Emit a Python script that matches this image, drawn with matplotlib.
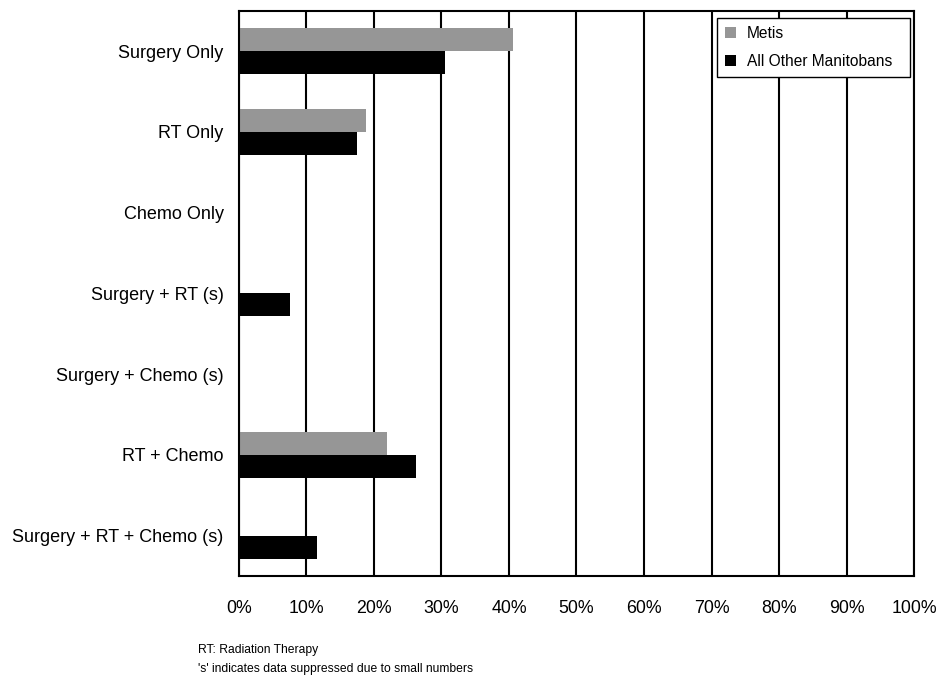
import matplotlib.pyplot as plt
import numpy as np

plt.rcParams['font.family'] = ['Liberation Sans', 'DejaVu Sans']

categories = ['Surgery Only', 'RT Only', 'Chemo Only', 'Surgery + RT (s)',
              'Surgery + Chemo (s)', 'RT + Chemo', 'Surgery + RT + Chemo (s)']
# percent of cases; 0 = suppressed / no bar
metis = [40.6, 18.8, 0, 0, 0, 21.9, 0]
others = [30.5, 17.5, 0, 7.5, 0, 26.2, 11.5]
xticks = list(range(0, 101, 10))

fig = plt.figure(figsize=(9.39, 6.79), dpi=100)
ax = fig.add_axes([0.2545, 0.1517, 0.7189, 0.8325])

y = np.arange(len(categories))
h = 0.285
ax.barh(y - h / 2, metis, height=h, color='#969696', label='Metis', zorder=3)
ax.barh(y + h / 2, others, height=h, color='black', label='All Other Manitobans', zorder=3)

ax.set_xlim(0, 100)
ax.set_ylim(len(categories) - 0.5, -0.5)
ax.set_xticks(xticks)
ax.set_xticklabels([f'{t}%' for t in xticks], fontsize=12.8)
ax.set_yticks(y)
ax.set_yticklabels(categories, fontsize=13)
ax.tick_params(axis='both', length=0)
ax.tick_params(axis='x', pad=17)
ax.tick_params(axis='y', pad=11)

ax.grid(axis='x', color='black', linewidth=1.5, zorder=1)
for s in ax.spines.values():
    s.set_color('black')
    s.set_linewidth(1.5)
ax.spines['left'].set_zorder(4)

leg = ax.legend(loc='upper left', bbox_to_anchor=(0.708, 0.883, 0.286, 0.104),
                mode='expand', fontsize=11.2,
                frameon=True, fancybox=False, edgecolor='black', framealpha=1,
                handlelength=0.75, handleheight=0.75, handletextpad=0.4,
                labelspacing=0.85, borderpad=0.5, borderaxespad=0)
leg.get_frame().set_linewidth(1.0)
for t in leg.get_texts():
    t.set_x(4)

fig.text(0.211, 0.043, 'RT: Radiation Therapy', fontsize=8.7, va='center')
fig.text(0.211, 0.015, "'s' indicates data suppressed due to small numbers", fontsize=8.7, va='center')

fig.savefig('out.png', dpi=100)
